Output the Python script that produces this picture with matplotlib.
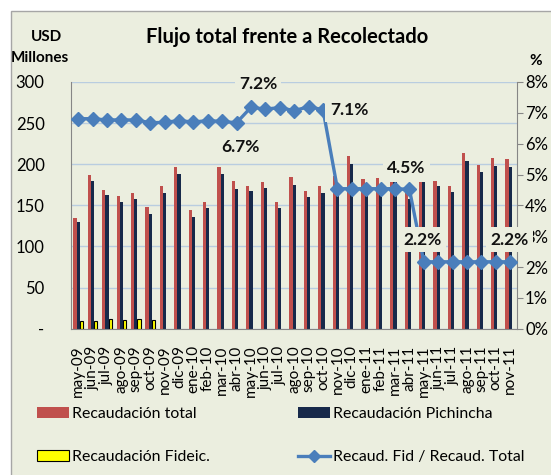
import numpy as np
import matplotlib
matplotlib.use("Agg")
import matplotlib.pyplot as plt
from matplotlib.patches import Rectangle
from matplotlib.lines import Line2D
from matplotlib.ticker import FuncFormatter

plt.rcParams['font.family'] = ['Lato', 'DejaVu Sans']

months = ['may-09', 'jun-09', 'jul-09', 'ago-09', 'sep-09', 'oct-09', 'nov-09', 'dic-09',
          'ene-10', 'feb-10', 'mar-10', 'abr-10', 'may-10', 'jun-10', 'jul-10', 'ago-10',
          'sep-10', 'oct-10', 'nov-10', 'dic-10', 'ene-11', 'feb-11', 'mar-11', 'abr-11',
          'may-11', 'jun-11', 'jul-11', 'ago-11', 'sep-11', 'oct-11', 'nov-11']

recaud_total = [135, 187, 169, 161, 165, 148, 174, 197, 144, 154, 197, 180, 174, 179, 154, 185,
                167, 174, 186, 210, 182, 183, 178, 170, 178, 180, 174, 214, 199, 207, 206]
recaud_pichincha = [130, 180, 162, 154, 158, 140, 165, 188, 136, 147, 188, 170, 167, 171, 147, 175,
                    160, 165, 176, 200, 172, 172, 178, 158, 178, 173, 166, 204, 190, 198, 197]
recaud_fideic = [9.7, 8.9, 11.4, 10.5, 11.4, 10.5] + [np.nan] * 25
ratio_pct = [6.81, 6.81, 6.77, 6.77, 6.77, 6.68, 6.69, 6.75, 6.70, 6.75, 6.72, 6.68, 7.18, 7.12,
             7.17, 7.07, 7.20, 7.10, 4.54, 4.54, 4.54, 4.54, 4.54, 4.52, 2.17, 2.17, 2.17, 2.17,
             2.17, 2.17, 2.17]

labels_idx = [12, 11, 17, 23, 24, 30]
labels_txt = ['7.2%', '6.7%', '7.1%', '4.5%', '2.2%', '2.2%']
labels_off = [(7, 23), (4, -24), (26, 0), (-3, 21), (-1, 22), (-1, 22)]

BG = '#EBEEDF'
RED = '#C0504D'
NAVY = '#17294A'
YEL = '#FFFF00'
BLUE = '#4A7EBB'
GRID = '#B9CDE0'
AX = '#868686'

W, H = 551, 475
fig = plt.figure(figsize=(W / 100, H / 100), dpi=100)
fig.patch.set_facecolor('white')
fig.patches.append(Rectangle((11 / W, -0.01), 1.05, 1 - 10.5 / H + 0.01, transform=fig.transFigure,
                             facecolor=BG, edgecolor='#A6A6A6', lw=1.0, zorder=-10))

ax = fig.add_axes([71 / W, 1 - 328.7 / H, (516.7 - 71) / W, (328.7 - 82) / H])
ax.set_facecolor('none')
x = np.arange(len(months))
w = 0.22
ax.bar(x - w, recaud_total, w, color=RED, zorder=2)
ax.bar(x, recaud_pichincha, w, color=NAVY, zorder=2)
ax.bar(x + w, recaud_fideic, w, color=YEL, edgecolor='black', lw=0.8, zorder=2)
ax.set_ylim(0, 300)
ax.set_xlim(-0.5, len(months) - 0.55)
ax.set_yticks(range(0, 301, 50))
ax.yaxis.set_major_formatter(FuncFormatter(lambda v, p: '-' if v == 0 else f'{int(v)}'))
ax.grid(axis='y', color=GRID, lw=1.0, zorder=0)
ax.set_axisbelow(True)
ax.set_xticks(x)
ax.set_xticklabels(months, rotation=90, fontsize=11)
ax.tick_params(axis='x', length=0, pad=12)
ax.tick_params(axis='y', length=0, pad=19, labelsize=12)
for s in ['top', 'right']:
    ax.spines[s].set_visible(False)
for s in ['left', 'bottom']:
    ax.spines[s].set_color(AX)

ax2 = ax.twinx()
ratio = np.array(ratio_pct) / 100
ax2.plot(x, ratio, color=BLUE, lw=2.4, marker='D', markersize=7, zorder=5)
ax2.set_ylim(0, 0.08)
ax2.set_yticks(np.arange(0, 0.081, 0.01))
ax2.yaxis.set_major_formatter(FuncFormatter(lambda v, p: f'{round(v * 100)}%'))
ax2.tick_params(axis='y', length=4, direction='out', color=AX, pad=2, labelsize=12)
for s in ['top', 'left', 'bottom']:
    ax2.spines[s].set_visible(False)
ax2.spines['right'].set_color(AX)

for i, t, (dx, dy) in zip(labels_idx, labels_txt, labels_off):
    ax2.annotate(t, xy=(x[i], ratio[i]), xytext=(dx, dy), textcoords='offset pixels',
                 ha='center', va='center', fontsize=12.5, fontweight='bold', color='#111111',
                 bbox=dict(boxstyle='square,pad=0.25', facecolor=BG, edgecolor='none'), zorder=10)

fig.text(287 / W, 1 - 37 / H, 'Flujo total frente a Recolectado', ha='center', va='center',
         fontsize=14.5, fontweight='bold')
fig.text(46 / W, 1 - 37 / H, 'USD', ha='center', va='center', fontsize=11, fontweight='bold')
fig.text(40 / W, 1 - 58 / H, 'Millones', ha='center', va='center', fontsize=11, fontweight='bold')
fig.text(536 / W, 1 - 61 / H, '%', ha='center', va='center', fontsize=11, fontweight='bold')

h_total = Rectangle((0, 0), 1, 1, facecolor=RED)
h_pich = Rectangle((0, 0), 1, 1, facecolor=NAVY)
h_fid = Rectangle((0, 0), 1, 1, facecolor=YEL, edgecolor='black', lw=0.8)
h_line = Line2D([], [], color=BLUE, lw=2.4, marker='D', markersize=6)

leg_kw = dict(loc='upper left', frameon=False, fontsize=11.4, handlelength=2.0, handleheight=0.65,
              handletextpad=0.2, labelspacing=1.85, borderaxespad=0, borderpad=0)
leg1 = fig.legend([h_total, h_fid], ['Recaudación total', 'Recaudación Fideic.'],
                  bbox_to_anchor=(37 / W, 1 - 407 / H), **leg_kw)
leg2 = fig.legend([h_pich, h_line], ['Recaudación Pichincha', 'Recaud. Fid / Recaud. Total'],
                  bbox_to_anchor=(298 / W, 1 - 407 / H), **leg_kw)

fig.savefig('out.png', dpi=100, facecolor=fig.get_facecolor())
